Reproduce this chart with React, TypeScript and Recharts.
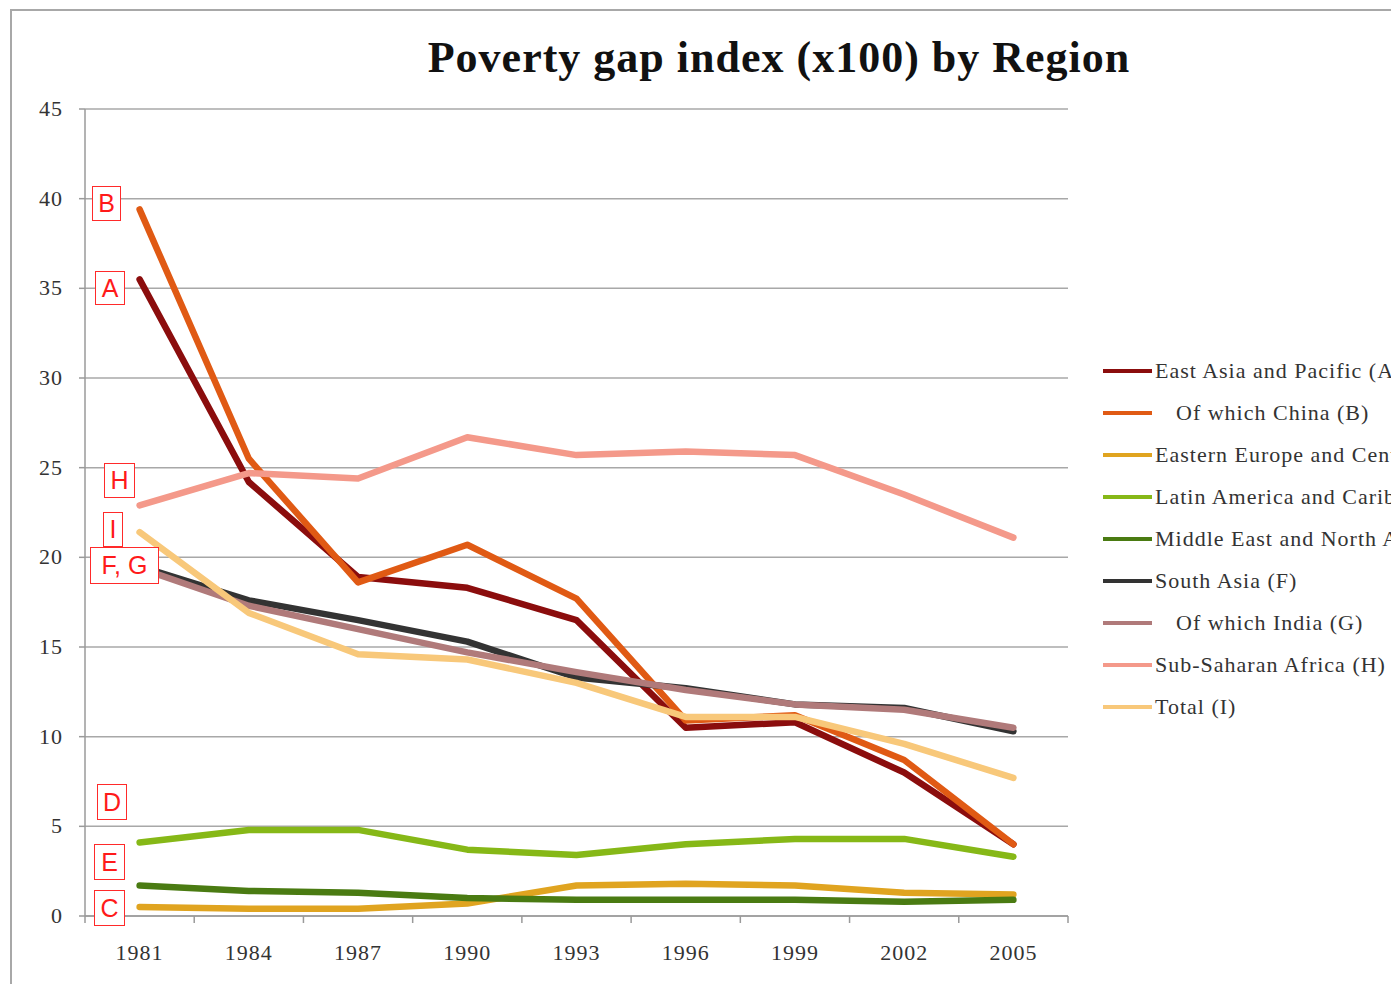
import React from 'react';
import { LineChart, Line, XAxis, YAxis, CartesianGrid } from 'recharts';

const years = ['1981', '1984', '1987', '1990', '1993', '1996', '1999', '2002', '2005'];
const eastAsia = [35.5, 24.2, 18.9, 18.3, 16.5, 10.5, 10.8, 8.0, 4.0];
const china = [39.4, 25.5, 18.6, 20.7, 17.7, 10.9, 11.2, 8.7, 4.0];
const easternEurope = [0.5, 0.4, 0.4, 0.7, 1.7, 1.8, 1.7, 1.3, 1.2];
const latinAmerica = [4.1, 4.8, 4.8, 3.7, 3.4, 4.0, 4.3, 4.3, 3.3];
const middleEast = [1.7, 1.4, 1.3, 1.0, 0.9, 0.9, 0.9, 0.8, 0.9];
const southAsia = [19.5, 17.6, 16.5, 15.3, 13.3, 12.7, 11.8, 11.6, 10.3];
const india = [19.4, 17.3, 16.0, 14.7, 13.6, 12.6, 11.8, 11.5, 10.5];
const subSaharan = [22.9, 24.7, 24.4, 26.7, 25.7, 25.9, 25.7, 23.5, 21.1];
const total = [21.4, 16.9, 14.6, 14.3, 13.0, 11.1, 11.1, 9.6, 7.7];
const yTicks = [0, 5, 10, 15, 20, 25, 30, 35, 40, 45];

const seriesDefs = [
  { key: 'A', name: 'East Asia and Pacific (A)', indent: false, values: eastAsia, color: '#8B0D0D' },
  { key: 'B', name: 'Of which China (B)', indent: true, values: china, color: '#E05A14' },
  { key: 'C', name: 'Eastern Europe and Central Asia (C)', indent: false, values: easternEurope, color: '#E0A420' },
  { key: 'D', name: 'Latin America and Caribbean (D)', indent: false, values: latinAmerica, color: '#86B817' },
  { key: 'E', name: 'Middle East and North Africa (E)', indent: false, values: middleEast, color: '#4A7B12' },
  { key: 'F', name: 'South Asia (F)', indent: false, values: southAsia, color: '#333333' },
  { key: 'G', name: 'Of which India (G)', indent: true, values: india, color: '#B07A7A' },
  { key: 'H', name: 'Sub-Saharan Africa (H)', indent: false, values: subSaharan, color: '#F4998A' },
  { key: 'I', name: 'Total (I)', indent: false, values: total, color: '#F8C87A' },
];

const data = years.map((y, i) => {
  const row: Record<string, any> = { year: y };
  seriesDefs.forEach((s) => (row[s.key] = s.values[i]));
  return row;
});

const boxes = [
  { t: 'B', left: 92, top: 186, w: 29, h: 35 },
  { t: 'A', left: 95, top: 271, w: 30, h: 34 },
  { t: 'H', left: 104, top: 463, w: 31, h: 35 },
  { t: 'I', left: 103, top: 512, w: 20, h: 35 },
  { t: 'F, G', left: 90, top: 547, w: 69, h: 37 },
  { t: 'D', left: 97, top: 784, w: 30, h: 36 },
  { t: 'E', left: 94, top: 844, w: 31, h: 36 },
  { t: 'C', left: 94, top: 890, w: 31, h: 36 },
];

const serif = '"Liberation Serif", "DejaVu Serif", serif';

const XTick = (props: any) => {
  const { x, y, payload, index } = props;
  const off = payload && payload.offset ? payload.offset : 54.6;
  return (
    <g>
      <line x1={x - off} y1={y} x2={x - off} y2={y + 7} stroke="#9a9a9a" strokeWidth={1.5} />
      {index === years.length - 1 && (
        <line x1={x + off} y1={y} x2={x + off} y2={y + 7} stroke="#9a9a9a" strokeWidth={1.5} />
      )}
      <text
        x={x}
        y={y + 44}
        textAnchor="middle"
        fontFamily={serif}
        fontSize={22}
        letterSpacing={1}
        fill="#333"
      >
        {payload.value}
      </text>
    </g>
  );
};

const YTick = (props: any) => {
  const { x, y, payload } = props;
  return (
    <text x={x} y={y + 7} textAnchor="end" fontFamily={serif} fontSize={22} letterSpacing={1} fill="#333">
      {payload.value}
    </text>
  );
};

export default function App() {
  return (
    <div style={{ position: 'fixed', left: 0, top: 0, width: 1391, height: 984, overflow: 'hidden', background: '#fff' }}>
      <div
        style={{
          position: 'absolute',
          left: 10,
          top: 9,
          width: 1500,
          height: 1100,
          borderTop: '2px solid #a8a8a8',
          borderLeft: '2px solid #a8a8a8',
        }}
      />
      <div
        style={{
          position: 'absolute',
          left: 329,
          width: 900,
          top: 32,
          textAlign: 'center',
          fontFamily: serif,
          fontWeight: 'bold',
          fontSize: 44,
          letterSpacing: 1,
          color: '#111',
          lineHeight: '52px',
        }}
      >
        Poverty gap index (x100) by Region
      </div>
      <div style={{ position: 'absolute', left: 0, top: 0 }}>
        <LineChart width={1080} height={984} data={data} margin={{ top: 109, right: 12, bottom: 18, left: 25 }}>
          <CartesianGrid vertical={false} stroke="#a8a8a8" strokeWidth={1.5} />
          <XAxis
            dataKey="year"
            scale="band"
            stroke="#9a9a9a"
            strokeWidth={1.5}
            tickLine={false}
            tickSize={0}
            tickMargin={0}
            height={50}
            tick={<XTick />}
            interval={0}
          />
          <YAxis
            domain={[0, 45]}
            ticks={yTicks}
            width={60}
            stroke="#9a9a9a"
            strokeWidth={1.5}
            tickSize={6}
            tickMargin={16}
            tick={<YTick />}
          />
          {seriesDefs.map((s) => (
            <Line
              key={s.key}
              dataKey={s.key}
              name={s.name}
              stroke={s.color}
              strokeWidth={6.5}
              dot={false}
              type="linear"
              isAnimationActive={false}
              strokeLinejoin="round"
              strokeLinecap="round"
            />
          ))}
        </LineChart>
      </div>
      {boxes.map((b) => (
        <div
          key={b.t}
          style={{
            position: 'absolute',
            left: b.left,
            top: b.top,
            width: b.w,
            height: b.h,
            boxSizing: 'border-box',
            border: '1.5px solid #ff2a2a',
            background: '#fff',
            color: '#ff1a1a',
            fontFamily: '"Liberation Sans", Arial, sans-serif',
            fontSize: 25,
            display: 'flex',
            alignItems: 'center',
            justifyContent: 'center',
            whiteSpace: 'nowrap',
          }}
        >
          {b.t}
        </div>
      ))}
      <div style={{ position: 'absolute', left: 1103, top: 350 }}>
        {seriesDefs.map((s) => (
          <div key={s.key} style={{ display: 'flex', alignItems: 'center', height: 42, whiteSpace: 'nowrap' }}>
            <div style={{ width: 49, height: 3.5, background: s.color, marginRight: 3, flexShrink: 0 }} />
            <span
              style={{
                fontFamily: serif,
                fontSize: 22,
                letterSpacing: 1,
                color: '#333',
                paddingLeft: s.indent ? 21 : 0,
              }}
            >
              {s.name}
            </span>
          </div>
        ))}
      </div>
    </div>
  );
}
